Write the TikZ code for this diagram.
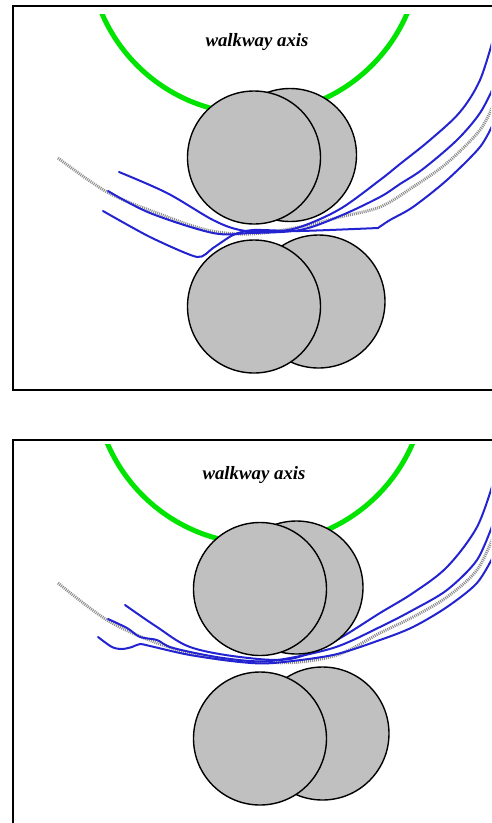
\documentclass[tikz,border=0pt]{standalone}
\usepackage{fontspec}
\setmainfont{Liberation Serif}
\definecolor{trackblue}{RGB}{35,35,210}
\definecolor{axisgreen}{RGB}{0,228,0}
\definecolor{footgray}{RGB}{192,192,192}
\begin{document}
\begin{tikzpicture}[x=1pt,y=-1pt,
  frameline/.style={line width=2pt,black},
  axisarc/.style={line width=5pt,axisgreen},
  foot/.style={circle,draw=black,line width=1.4pt,fill=footgray,inner sep=0pt,minimum size=133pt},
  track/.style={line width=2pt,trackblue,line join=round,line cap=round},
  path2/.style={line width=3pt,gray!90,dash pattern=on 1pt off 1pt},
  label/.style={font=\fontsize{18.8}{20}\selectfont\bfseries\itshape,inner sep=0pt}]
\useasboundingbox (0,0) rectangle (492,823);
% ---------------- top panel ----------------
\draw[frameline] (492,6) -- (13,6) -- (13,390) -- (492,390);
\begin{scope}
\clip (14,14) rectangle (491,389);
\draw[axisarc] (254.5,-52) circle[radius=166];
\draw[path2] plot[smooth,tension=0.55] coordinates {(58,158) (107,192) (157,213) (207,230) (250,234) (300,227) (340,217) (380,207) (413,187) (447,163) (480,130) (494,103)};
\draw[track] plot[smooth,tension=0.55] coordinates {(119,172) (167,193) (213,220) (240,230) (270,232) (300,227) (340,209) (380,180) (400,164) (430,140) (460,112) (480,80) (494,36)};
\draw[track] plot[smooth,tension=0.55] coordinates {(108,191) (150,213) (213,233) (250,233) (300,230) (340,216) (380,197) (400,184) (423,169) (457,140) (480,113) (494,86)};
\draw[track] plot[smooth,tension=0.4] coordinates {(103,211) (150,237) (197,257) (213,248) (233,235) (253,230) (300,231) (378,228)};
\draw[track] plot[smooth,tension=0.5] coordinates {(378,228) (390,220) (413,207) (447,180) (480,147) (494,122)};
\end{scope}
\node[foot] (tb) at (290,155) {};
\node[foot] (tf) at (254,157.5) {};
\node[foot] (bb) at (318.5,301.5) {};
\node[foot] (bf) at (254,306.5) {};
\node[label] (t1) at (257,42) {walkway axis};
% ---------------- bottom panel ----------------
\draw[frameline] (492,440) -- (13,440) -- (13,823);
\begin{scope}
\clip (14,444) rectangle (491,823);
\draw[axisarc] (260,378) circle[radius=166];
\draw[path2] plot[smooth,tension=0.55] coordinates {(58,583) (107,620) (157,643) (207,657) (257,662) (300,662) (340,654) (380,633) (413,617) (447,597) (477,570) (494,535)};
\draw[track] plot[smooth,tension=0.55] coordinates {(125,605) (157,627) (190,647) (240,657) (290,659) (333,642) (380,613) (413,593) (447,567) (477,527) (494,480)};
\draw[track] plot[smooth,tension=0.5] coordinates {(108,619) (127,628) (140,637) (157,640) (173,648) (223,658) (270,661) (333,648) (380,627) (413,610) (447,590) (477,560) (494,521)};
\draw[track] plot[smooth,tension=0.5] coordinates {(98,637) (112,647) (122,649) (132,647) (140,644) (150,646) (190,655) (240,662) (273,663) (333,655) (380,640) (413,627) (447,607) (477,583) (494,555)};
\end{scope}
\node[foot] (tb2) at (296.5,587.5) {};
\node[foot] (tf2) at (260,589) {};
\node[foot] (bb2) at (322.5,733.5) {};
\node[foot] (bf2) at (260,738.5) {};
\node[label] (t2) at (254,475) {walkway axis};
\end{tikzpicture}
\end{document}
